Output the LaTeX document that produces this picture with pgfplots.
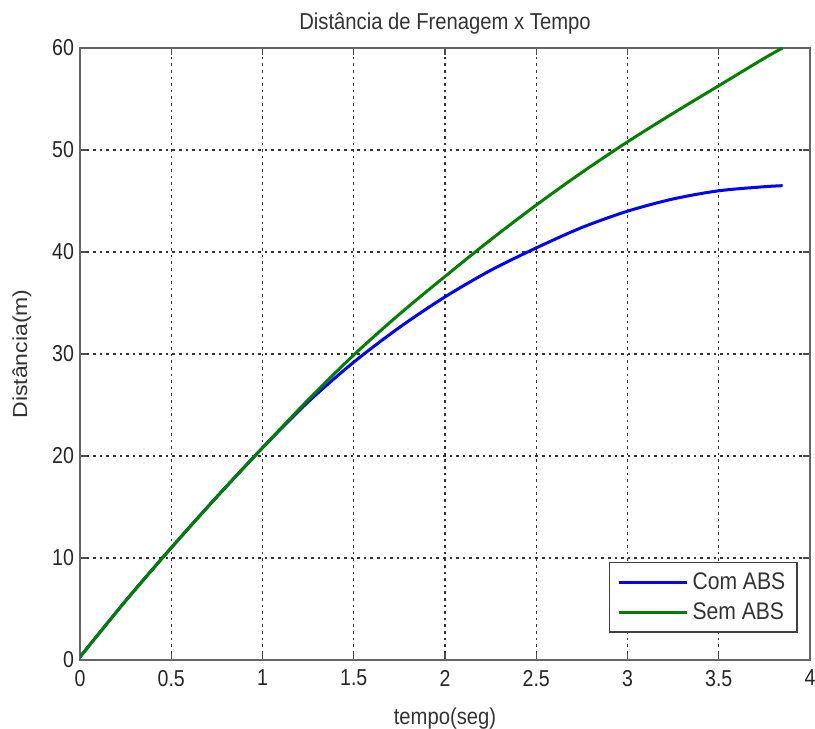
\documentclass[border=0pt]{standalone}
\usepackage{fontspec}
\setmainfont{Liberation Sans}
\usepackage{pgfplots}
\pgfplotsset{compat=1.18}
\definecolor{mblue}{RGB}{0,0,255}
\definecolor{mgreen}{RGB}{0,128,0}
\begin{document}
\begin{tikzpicture}
\begin{axis}[
  scale only axis,
  width=365pt, height=306pt,
  xmin=0, xmax=4, ymin=0, ymax=60,
  xtick={0,0.5,1,1.5,2,2.5,3,3.5,4},
  xticklabels={0,0.5,1,1.5,2,2.5,3,3.5,4},
  ytick={0,10,20,30,40,50,60},
  /pgf/number format/assume math mode=true,
  tick align=inside,
  tick pos=both,
  major tick length=3.5pt,
  grid=major,
  major grid style={black!80, dash pattern=on 1.3pt off 2pt, line width=0.6pt},
  axis line style={black!60, line width=0.9pt},
  tick style={black!70, line width=0.7pt},
  ticklabel style={font=\fontsize{11.5}{13}\selectfont, text=black!85, xscale=0.85},
  xticklabel style={yshift=-1.5pt},
  title={Distância de Frenagem x Tempo},
  title style={font=\fontsize{11.5}{13}\selectfont, text=black!80, xscale=0.88, at={(axis description cs:0.5,1.0425)}, anchor=center, yshift=-7pt},
  xlabel={tempo(seg)},
  ylabel={Distância(m)},
  xlabel style={font=\fontsize{11.5}{13}\selectfont, text=black!80, xscale=0.88, at={(axis description cs:0.5,-0.095)}, anchor=center},
  ylabel style={font=\fontsize{11.5}{13}\selectfont, text=black!80, yscale=0.88, at={(axis description cs:-0.0795,0.5)}, anchor=center},
  legend style={at={(0.9836,0.0441)}, anchor=south east, draw=black!75, line width=0.8pt, font=\fontsize{12}{13}\selectfont, row sep=1pt, inner xsep=4pt, inner ysep=3pt, text=black!80},
  legend cell align=left,
  legend image code/.code={\draw[#1, line width=1.5pt] (0pt,0pt) -- (34pt,0pt);},
]
\addplot[mblue, line width=1.5pt, smooth] coordinates {
(0,0.3) (0.25,5.8) (0.5,11.0) (0.75,16.0) (1,20.8) (1.25,25.3) (1.5,29.2)
(1.75,32.6) (2,35.6) (2.25,38.2) (2.5,40.4) (2.75,42.4) (3,44.0) (3.25,45.2)
(3.5,46.0) (3.75,46.4) (3.85,46.5)};
\addlegendentry{\scalebox{0.88}[1]{Com ABS}}
\addplot[mgreen, line width=1.5pt, smooth] coordinates {
(0,0.3) (0.25,5.8) (0.5,11.0) (0.75,16.0) (1,20.8) (1.25,25.5) (1.5,29.9)
(1.75,33.9) (2,37.6) (2.25,41.2) (2.5,44.6) (2.75,47.8) (3,50.8) (3.25,53.6)
(3.5,56.3) (3.75,59.0) (3.85,60.0)};
\addlegendentry{\scalebox{0.88}[1]{Sem ABS}}
\end{axis}
\pgfresetboundingbox
\path (current axis.south west) ++(-40pt,-34.5pt) coordinate (bbA);
\path (current axis.north east) ++(2.5pt,24pt) coordinate (bbB);
\useasboundingbox (bbA) rectangle (bbB);
\end{tikzpicture}
\end{document}
